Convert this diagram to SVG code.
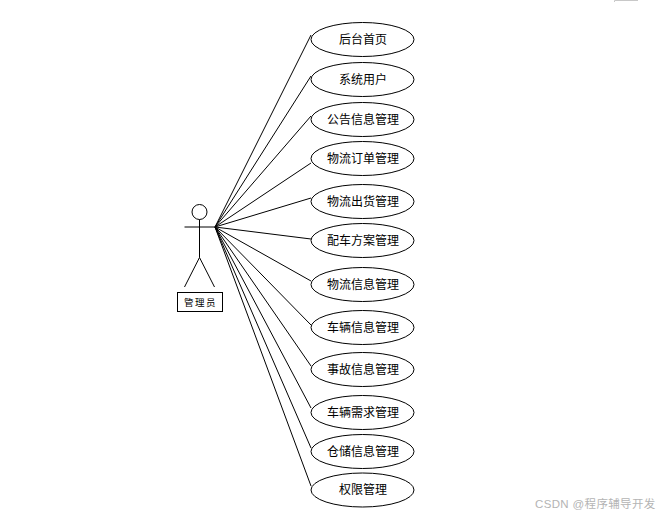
<svg xmlns="http://www.w3.org/2000/svg" width="664" height="518" viewBox="0 0 664 518">
<style>
.s{fill:none;stroke:#000;stroke-width:1}
.u{fill:#fff;stroke:#000;stroke-width:1}
.t{font-family:"Noto Sans CJK SC","Liberation Sans",sans-serif;font-size:12px;fill:#000;text-anchor:middle}
.w{font-family:"Liberation Sans","Noto Sans CJK SC",sans-serif;font-size:11.5px;fill:#b4b4b4;letter-spacing:.35px}
</style>
<rect width="664" height="518" fill="#fff"/>
<path d="M614.500 2V0.500H638" fill="none" stroke="#c8c8c8"/>
<g id="connectors" class="s">
<path d="M215 227L311 35M215 227L311 76M215 227L311 116M215 227L311 163M215 227L311 198M215 227L311 239M215 227L311 281M215 227L311 325M215 227L311 366M215 227L311 408M215 227L311 448M215 227L311 486"/>
</g>
<g id="actor" class="s">
<circle cx="199.500" cy="212" r="7.500"/>
<path d="M199.500 219.500V257.500M184.500 227H215M199.500 257.500L184.500 287M199.500 257.500L214.500 287"/>
</g>
<g id="actor-label">
<rect x="177.500" y="292.500" width="45" height="19" fill="#fff" stroke="#000"/>
<text class="t" x="200.500" y="306" style="font-size:9.500px;letter-spacing:1.500px">管理员</text>
</g>
<g id="n1"><ellipse class="u" cx="362.500" cy="39.500" rx="51.500" ry="17"/><text class="t" x="363" y="44">后台首页</text></g>
<g id="n2"><ellipse class="u" cx="362.500" cy="79.500" rx="51.500" ry="17"/><text class="t" x="363" y="84">系统用户</text></g>
<g id="n3"><ellipse class="u" cx="362.500" cy="119.500" rx="51.500" ry="17"/><text class="t" x="363" y="124">公告信息管理</text></g>
<g id="n4"><ellipse class="u" cx="362.500" cy="158.500" rx="51.500" ry="17"/><text class="t" x="363" y="163">物流订单管理</text></g>
<g id="n5"><ellipse class="u" cx="362.500" cy="201.500" rx="51.500" ry="17"/><text class="t" x="363" y="206">物流出货管理</text></g>
<g id="n6"><ellipse class="u" cx="362.500" cy="240.500" rx="51.500" ry="17"/><text class="t" x="363" y="245">配车方案管理</text></g>
<g id="n7"><ellipse class="u" cx="362.500" cy="284.500" rx="51.500" ry="17"/><text class="t" x="363" y="289">物流信息管理</text></g>
<g id="n8"><ellipse class="u" cx="362.500" cy="327.500" rx="51.500" ry="17"/><text class="t" x="363" y="332">车辆信息管理</text></g>
<g id="n9"><ellipse class="u" cx="362.500" cy="369.500" rx="51.500" ry="17"/><text class="t" x="363" y="374">事故信息管理</text></g>
<g id="n10"><ellipse class="u" cx="362.500" cy="412.500" rx="51.500" ry="17"/><text class="t" x="363" y="417">车辆需求管理</text></g>
<g id="n11"><ellipse class="u" cx="362.500" cy="451.500" rx="51.500" ry="17"/><text class="t" x="363" y="456">仓储信息管理</text></g>
<g id="n12"><ellipse class="u" cx="362.500" cy="490" rx="51.500" ry="17"/><text class="t" x="363" y="494">权限管理</text></g>
<text class="w" x="535" y="508">CSDN @程序辅导开发</text>
</svg>
